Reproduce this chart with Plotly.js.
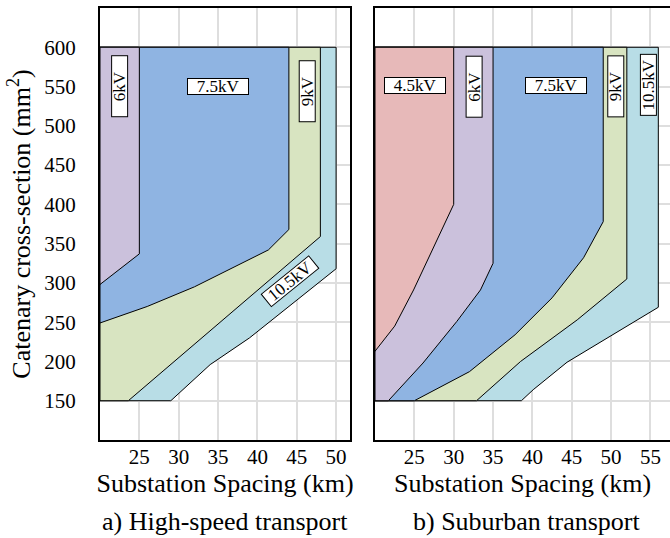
<!DOCTYPE html>
<html>
<head>
<meta charset="utf-8">
<script src="https://cdn.plot.ly/plotly-3.0.1.min.js"></script>
<style>html,body{margin:0;padding:0;background:#fff;}#chart{width:670px;height:538px;}</style>
</head>
<body>
<div id="chart"></div>
<script>
// ---- Data: region boundaries (Substation spacing km, cross-section mm2) ----
// a) High-speed transport
const hs105X = [20, 29, 34, 39, 50, 50, 20, 20];
const hs105Y = [150, 150, 196, 230, 318, 600, 600, 150];
const hs9X = [20, 23.6, 48, 48, 20, 20];
const hs9Y = [150, 150, 359, 600, 600, 150];
const hs75X = [20, 26, 32, 37, 41.4, 44, 44, 20, 20];
const hs75Y = [249, 270, 295, 320, 342, 368, 600, 600, 249];
const hs6X = [20, 25, 25, 20, 20];
const hs6Y = [298, 337, 600, 600, 298];

// b) Suburban transport
const sb105X = [20, 38.6, 40.1, 44.4, 56, 56, 20, 20];
const sb105Y = [150, 150, 164, 199, 269, 600, 600, 150];
const sb9X = [20, 32.9, 38.5, 45.7, 52, 52, 20, 20];
const sb9Y = [150, 150, 200, 253, 305, 600, 600, 150];
const sb75X = [20, 25, 32, 37.8, 42.5, 46.5, 49, 49, 20, 20];
const sb75Y = [150, 150, 187, 234, 281, 332, 378, 600, 600, 150];
const sb6X = [20, 21.7, 26.1, 30.4, 33.4, 35, 35, 20, 20];
const sb6Y = [150, 150, 198, 251, 291, 325, 600, 600, 150];
const sb45X = [20, 22.5, 24.9, 27.8, 30, 30, 20, 20];
const sb45Y = [213, 245, 291, 353, 400, 600, 600, 213];

// tick labels
const yTicks = [150, 200, 250, 300, 350, 400, 450, 500, 550, 600];
const xTicksA = [25, 30, 35, 40, 45, 50];
const xTicksB = [25, 30, 35, 40, 45, 50, 55];

// region labels: [text, x, y, angle, panel]
const regionLabels = [
  ['6kV', 22.5, 550, -90, 'a'],
  ['7.5kV', 35, 550, 0, 'a'],
  ['9kV', 46.3, 544, -90, 'a'],
  ['10.5kV', 44.1, 302, -39, 'a'],
  ['4.5kV', 25.1, 551, 0, 'b'],
  ['6kV', 32.6, 550, -90, 'b'],
  ['7.5kV', 43.0, 551, 0, 'b'],
  ['9kV', 50.6, 550, -90, 'b'],
  ['10.5kV', 54.8, 552, -90, 'b']
];

const colors = {
  k45: 'rgb(231,185,185)',
  k6: 'rgb(203,193,220)',
  k75: 'rgb(143,180,226)',
  k9: 'rgb(216,228,193)',
  k105: 'rgb(184,221,230)'
};

function region(x, y, color, xa, ya) {
  return {
    type: 'scatter', mode: 'lines', x: x, y: y, fill: 'toself', fillcolor: color,
    line: {color: '#000', width: 1}, xaxis: xa, yaxis: ya, hoverinfo: 'skip', showlegend: false
  };
}

const traces = [
  region(hs105X, hs105Y, colors.k105, 'x', 'y'),
  region(hs9X, hs9Y, colors.k9, 'x', 'y'),
  region(hs75X, hs75Y, colors.k75, 'x', 'y'),
  region(hs6X, hs6Y, colors.k6, 'x', 'y'),
  region(sb105X, sb105Y, colors.k105, 'x2', 'y2'),
  region(sb9X, sb9Y, colors.k9, 'x2', 'y2'),
  region(sb75X, sb75Y, colors.k75, 'x2', 'y2'),
  region(sb6X, sb6Y, colors.k6, 'x2', 'y2'),
  region(sb45X, sb45Y, colors.k45, 'x2', 'y2')
];

const FONT = "'Liberation Serif', 'Times New Roman', serif";
const W = 670, H = 538;
const yDom = [1 - 440 / H, 1 - 8 / H];

const gridCol = '#dedede';
function xAxis(dom, range, ticks) {
  return {
    domain: dom, range: range, tickvals: [20, ...ticks], ticktext: [' ', ...ticks.map(String)],
    showgrid: true, gridcolor: gridCol, gridwidth: 2, zeroline: false,
    showline: true, linecolor: '#000', linewidth: 2, mirror: true,
    ticks: 'outside', ticklen: 1, tickcolor: 'rgba(0,0,0,0)', ticklabelstandoff: -4,
    tickfont: {family: FONT, size: 21, color: '#000'},
    title: {text: 'Substation Spacing (km)', font: {family: FONT, size: 26, color: '#000'}, standoff: 5},
    fixedrange: true
  };
}
function yAxis(anchor, showLabels, mirror) {
  return {
    domain: yDom, range: [100, 650], anchor: anchor,
    tickvals: [100, ...yTicks, 650],
    ticktext: [' ', ...yTicks.map(String), ' '],
    showticklabels: showLabels,
    showgrid: true, gridcolor: gridCol, gridwidth: 2, zeroline: false,
    showline: true, linecolor: '#000', linewidth: 2, mirror: mirror,
    ticks: showLabels ? 'outside' : '', ticklen: 18, tickcolor: 'rgba(0,0,0,0)',
    tickfont: {family: FONT, size: 21, color: '#000'},
    fixedrange: true
  };
}

const xa = xAxis([100 / W, 350 / W], [20, 20 + 250 / 7.87], xTicksA);
const xb = xAxis([375 / W, 1], [20, 20 + 295 / 7.87], xTicksB);
xa.anchor = 'y'; xb.anchor = 'y2';

const ya = yAxis('x', true, true);
ya.title = {text: 'Catenary cross-section (mm<sup>2</sup>)', font: {family: FONT, size: 26, color: '#000'}, standoff: 6};
const yb = yAxis('x2', false, false);

const annotations = regionLabels.map(l => ({
  text: l[0], x: l[1], y: l[2], textangle: l[3],
  xref: l[4] === 'a' ? 'x' : 'x2', yref: l[4] === 'a' ? 'y' : 'y2',
  showarrow: false, font: {family: FONT, size: 17, color: '#000'},
  width: 60, height: 15, align: 'center', valign: 'middle',
  bgcolor: '#fff', bordercolor: '#000', borderwidth: 1, borderpad: 0
}));
annotations.push(
  {text: 'a) High-speed transport', xref: 'paper', yref: 'paper', x: 225 / W, y: 1 - 521 / H,
   showarrow: false, font: {family: FONT, size: 26, color: '#000'}, xanchor: 'center', yanchor: 'middle'},
  {text: 'b) Suburban transport', xref: 'paper', yref: 'paper', x: 527 / W, y: 1 - 521 / H,
   showarrow: false, font: {family: FONT, size: 26, color: '#000'}, xanchor: 'center', yanchor: 'middle'}
);

const layout = {
  width: W, height: H,
  margin: {l: 0, r: 0, t: 0, b: 0},
  paper_bgcolor: '#fff', plot_bgcolor: '#fff',
  xaxis: xa, yaxis: ya, xaxis2: xb, yaxis2: yb,
  annotations: annotations,
  showlegend: false
};

Plotly.newPlot('chart', traces, layout, {displayModeBar: false, staticPlot: true});
</script>
</body>
</html>
